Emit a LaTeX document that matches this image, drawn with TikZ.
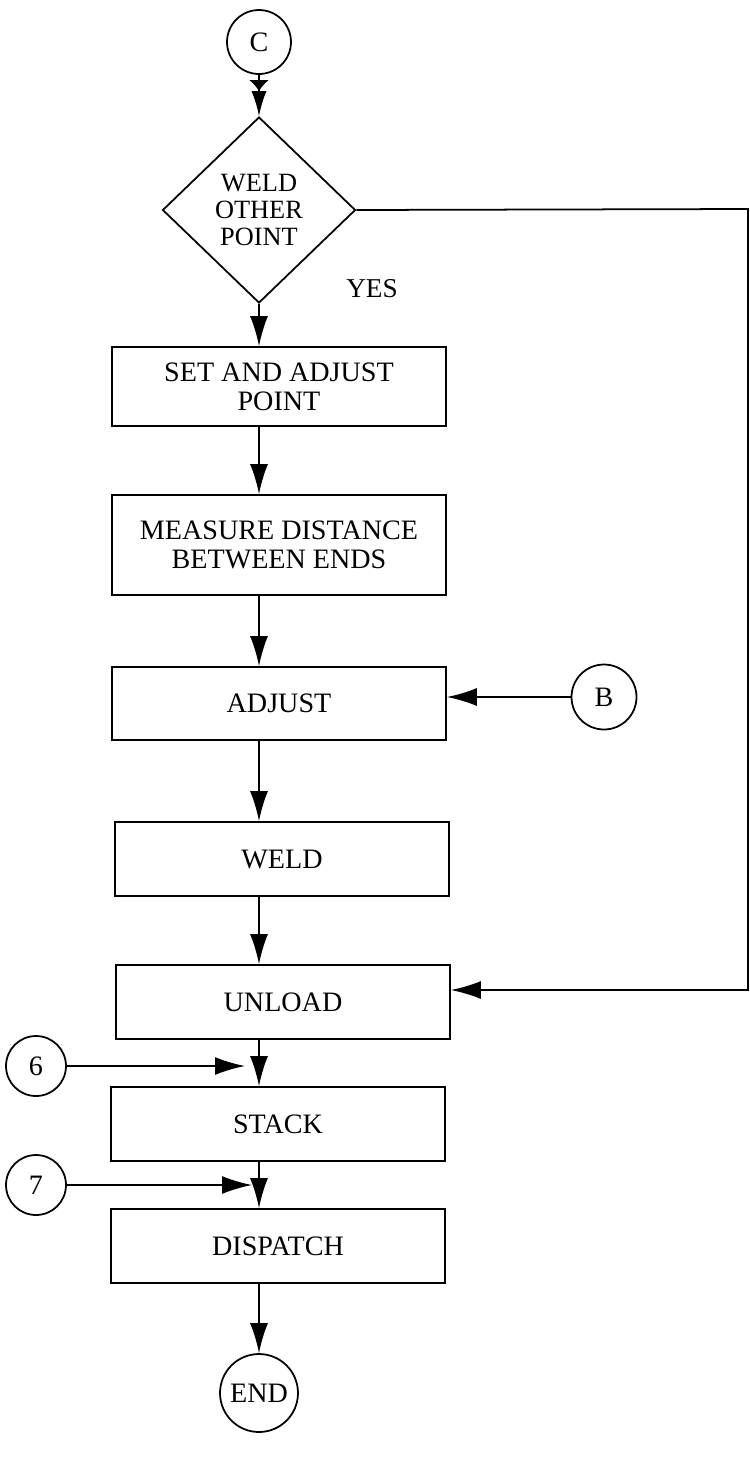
\documentclass[tikz,border=0pt]{standalone}
\usepackage{fontspec}
\setmainfont{Liberation Serif}
\usetikzlibrary{shapes.geometric, arrows.meta, positioning}

\begin{document}
\begin{tikzpicture}[x=0.02cm, y=-0.02cm,
    stepbox/.style = {rectangle, draw=black, line width=1pt, minimum width=6.68cm, minimum height=1.48cm, align=center, inner sep=2pt, font=\fontsize{16}{16.5}\selectfont},
    decision/.style = {diamond, draw=black, line width=1pt, minimum width=3.86cm, minimum height=3.72cm, inner sep=0pt, align=center, font=\fontsize{15}{15.5}\selectfont},
    connector/.style = {circle, draw=black, line width=1pt, minimum size=1.28cm, inner sep=0pt, font=\fontsize{16}{16}\selectfont},
    flow/.style = {-{Latex[length=6mm, width=3.6mm]}, line width=1pt}
]
\useasboundingbox (0,0) rectangle (750,1471);

\node [connector] (C) at (259,42) {C};
\node [decision] (dia) at (259,210) {WELD\\OTHER\\POINT};
\node [font=\fontsize{15.5}{15.5}\selectfont] (yes) at (372,289) {YES};

\node [stepbox, minimum height=1.58cm] (set) at (279,386.5) {SET AND ADJUST\\POINT};
\node [stepbox, minimum height=2cm] (measure) at (279,545) {MEASURE DISTANCE\\BETWEEN ENDS};
\node [stepbox, minimum height=1.46cm] (adjust) at (279,703.5) {ADJUST};
\node [stepbox] (weld) at (282,859) {WELD};
\node [stepbox] (unload) at (283,1002) {UNLOAD};
\node [stepbox] (stack) at (278,1124) {STACK};
\node [stepbox] (dispatch) at (278,1246) {DISPATCH};
\node [connector, minimum size=1.56cm] (end) at (259,1393) {END};

\node [connector, minimum size=1.3cm] (B) at (604,697) {B};
\node [connector, minimum size=1.2cm] (six) at (36,1066) {6};
\node [connector, minimum size=1.2cm] (seven) at (36,1185) {7};

\coordinate (loop) at (748,209);
\coordinate (into stack) at (245,1066);
\coordinate (into dispatch) at (252,1185);

% main line
\draw [-{Latex[length=2.2mm, width=4mm]Latex[length=5mm, width=3mm]}, line width=1pt] (C) -- (dia);
\draw [flow] (dia.south) -- (dia.south |- set.north);
\foreach \a/\b in {set/measure, measure/adjust, adjust/weld, weld/unload, unload/stack, stack/dispatch}
    \draw [flow] (dia.south |- \a.south) -- (dia.south |- \b.north);
\draw [flow] (dia.south |- dispatch.south) -- (end);

% side entries
\draw [flow] (dia.east) -- (loop) |- ([yshift=0.24cm]unload.east);
\draw [flow] (B) -- (adjust.east |- B);
\draw [flow] (six) -- (into stack);
\draw [flow] (seven) -- (into dispatch);

\end{tikzpicture}
\end{document}
